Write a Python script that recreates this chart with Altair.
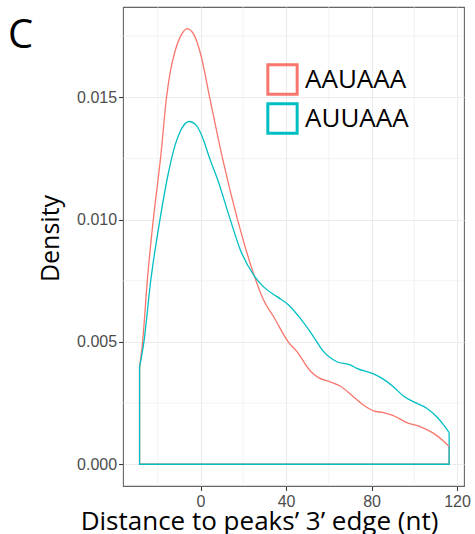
import altair as alt
import pandas as pd

series_names = ["AAUAAA", "AUUAAA"]
series_colors = ["#F8766D", "#00BFC4"]

aauaaa_x = [-28.5, -27.1, -24.9, -22.1, -19.9, -18.7, -15.9, -14.0, -12.0, -9.0, -6.2, -3.0,
            0.1, 4.3, 10.3, 17.4, 25.2, 29.5, 34.2, 41.2, 45.1, 51.5, 55.0, 60.7, 65.3, 71.5,
            76.2, 80.9, 85.5, 90.2, 96.5, 102.7, 108.9, 113.5, 116.3]
aauaaa_y = [0.00397, 0.00498, 0.00749, 0.00998, 0.01161, 0.0125, 0.01499, 0.01610, 0.01685,
            0.01755, 0.01781, 0.01755, 0.01675, 0.01499, 0.0125, 0.00998, 0.00769, 0.00671,
            0.00603, 0.00498, 0.0046, 0.0038, 0.00355, 0.00337, 0.0032, 0.00276, 0.00242,
            0.00218, 0.00211, 0.00199, 0.0017, 0.00154, 0.00127, 0.00096, 0.00072]

auuaaa_x = [-28.5, -26.5, -23.3, -19.0, -15.5, -12.5, -9.5, -5.3, -2.0, 1.0, 4.3, 8.1, 14.0,
            18.7, 25.2, 29.5, 35.8, 41.2, 46.7, 52.9, 57.6, 63.8, 70.0, 73.1, 80.9, 85.5,
            90.2, 94.9, 99.5, 105.8, 110.5, 114.3, 116.3]
auuaaa_y = [0.00397, 0.00498, 0.00749, 0.00998, 0.0117, 0.01285, 0.0136, 0.01401, 0.01385,
            0.01335, 0.0125, 0.01161, 0.00998, 0.00875, 0.00769, 0.00725, 0.00685, 0.00651,
            0.00596, 0.00521, 0.0046, 0.00419, 0.00406, 0.00392, 0.00369, 0.00348, 0.00317,
            0.00279, 0.00256, 0.00229, 0.00194, 0.00154, 0.00129]

x_ticks = [0, 40, 80, 120]
x_minor = [-20, 20, 60, 100]
y_ticks = [0.0, 0.005, 0.010, 0.015]
y_minor = [0.0025, 0.0075, 0.0125, 0.0175]
panel_label = ["C"]
x_title = "Distance to peaks\u2019 3\u2019 edge (nt)"
y_title = "Density"

# curve table
rows = []
for name, xs, ys in [(series_names[0], aauaaa_x, aauaaa_y), (series_names[1], auuaaa_x, auuaaa_y)]:
    for i, (a, b) in enumerate(zip(xs, ys)):
        rows.append({"series": name, "x": a, "y": b, "o": i})
curves = pd.DataFrame(rows)

# outline (sides and baseline of the density polygon)
orows = []
for name, xs, ys in [(series_names[0], aauaaa_x, aauaaa_y), (series_names[1], auuaaa_x, auuaaa_y)]:
    pts = [(xs[0], ys[0]), (xs[0], 0.0), (xs[-1], 0.0), (xs[-1], ys[-1])]
    for i, (a, b) in enumerate(pts):
        orows.append({"series": name, "x": a, "y": b, "o": i})
outline = pd.DataFrame(orows)

xscale = alt.Scale(domain=[-36.25, 123.25], nice=False, zero=False)
yscale = alt.Scale(domain=[-0.00089, 0.01869], nice=False, zero=False)

xaxis = alt.Axis(values=x_ticks, title=x_title, grid=True, gridColor="#EBEBEB", gridWidth=1.1,
                 domain=False, ticks=True, tickColor="#333333", tickSize=4.4, tickWidth=1.07,
                 labelFont="Liberation Sans", labelFontSize=16, labelColor="#4D4D4D",
                 labelPadding=3, titleFont="Open Sans", titleFontSize=26, titleFontWeight="normal",
                 titleColor="black", titleX=136, titleY=43, titleAlign="center",
                 titleBaseline="alphabetic", titleAngle=0)
yaxis = alt.Axis(values=y_ticks, format=".3f", title=y_title, grid=True, gridColor="#EBEBEB",
                 gridWidth=1.1, domain=False, ticks=True, tickColor="#333333", tickSize=4.4,
                 tickWidth=1.07, labelFont="Liberation Sans", labelFontSize=16,
                 labelColor="#4D4D4D", labelPadding=2, titleFont="Open Sans", titleFontSize=25,
                 titleFontWeight="normal", titleColor="black", titleX=-65, titleY=231,
                 titleAlign="center", titleBaseline="alphabetic", titleAngle=270)

color = alt.Color("series:N", scale=alt.Scale(domain=series_names, range=series_colors),
                  legend=alt.Legend(orient="none", legendX=143, legendY=56, title=None,
                                    symbolType="square", symbolSize=860, symbolStrokeWidth=3,
                                    symbolFillColor="transparent", labelFont="Open Sans",
                                    labelFontSize=26, labelColor="black", labelOffset=6,
                                    rowPadding=-4, padding=0))

vgrid = alt.Chart(pd.DataFrame({"x": x_minor})).mark_rule(color="#EBEBEB", strokeWidth=0.6).encode(
    x=alt.X("x:Q", scale=xscale, axis=xaxis))
hgrid = alt.Chart(pd.DataFrame({"y": y_minor})).mark_rule(color="#EBEBEB", strokeWidth=0.6).encode(
    y=alt.Y("y:Q", scale=yscale, axis=yaxis))

outline_layer = alt.Chart(outline).mark_line(strokeWidth=1.3, interpolate="linear").encode(
    x=alt.X("x:Q", scale=xscale, axis=xaxis),
    y=alt.Y("y:Q", scale=yscale, axis=yaxis),
    color=color,
    order="o:Q",
)
curve_layer = alt.Chart(curves).mark_line(strokeWidth=1.3, interpolate="monotone").encode(
    x=alt.X("x:Q", scale=xscale, axis=xaxis),
    y=alt.Y("y:Q", scale=yscale, axis=yaxis),
    color=color,
    order="o:Q",
)
label_layer = alt.Chart(pd.DataFrame({"label": panel_label})).mark_text(
    align="left", baseline="alphabetic", fontSize=40, font="Open Sans", color="black").encode(
    text="label:N", x=alt.value(-115), y=alt.value(41))

chart = alt.layer(vgrid, hgrid, outline_layer, curve_layer, label_layer).properties(
    width=341, height=479,
    padding={"left": 123, "top": 7, "right": 11, "bottom": 48},
    autosize=alt.AutoSizeParams(type="none"),
).configure_view(stroke="#666666", strokeWidth=1.1)

chart.save("out.html", embed_options={"renderer": "svg", "actions": False})
